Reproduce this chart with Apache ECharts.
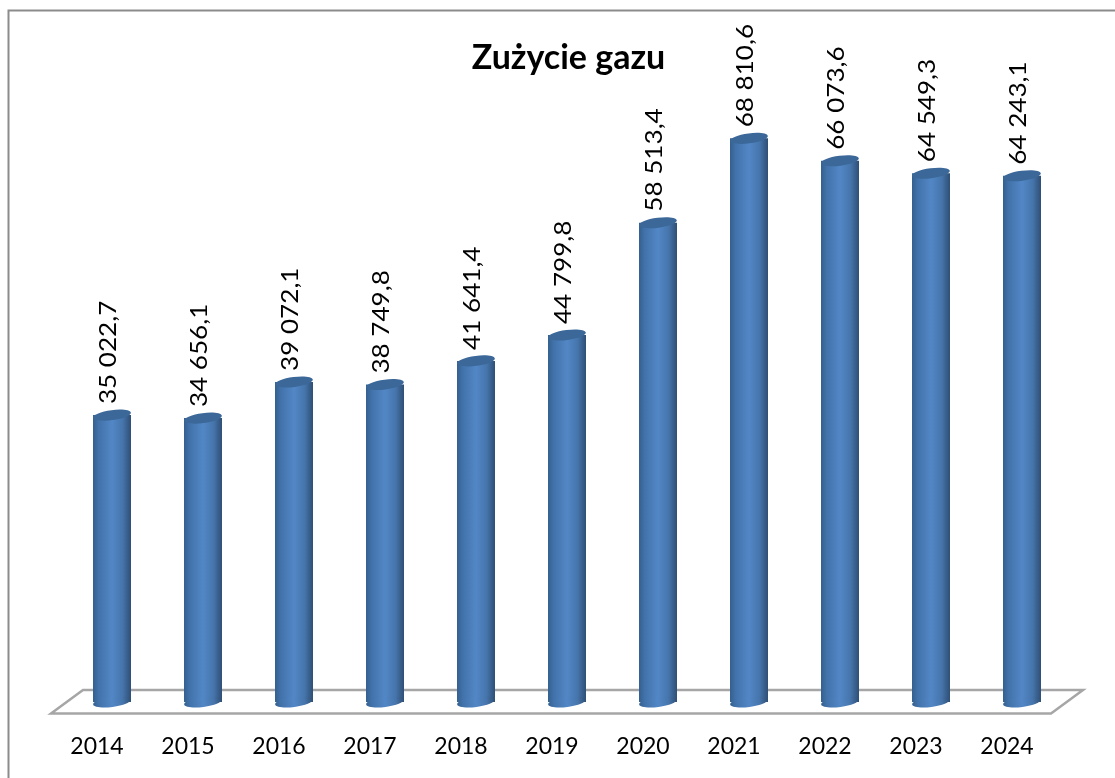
<!DOCTYPE html>
<html>
<head>
<meta charset="utf-8">
<style>html,body{margin:0;padding:0;background:#fff}#main{width:1115px;height:778px}</style>
<script src="https://cdn.jsdelivr.net/npm/echarts@6/dist/echarts.min.js"></script>
</head>
<body>
<div id="main"></div>
<script>
var years = ['2014', '2015', '2016', '2017', '2018', '2019', '2020', '2021', '2022', '2023', '2024'];
var gasUse = [35022.7, 34656.1, 39072.1, 38749.8, 41641.4, 44799.8, 58513.4, 68810.6, 66073.6, 64549.3, 64243.1];
var chartTitle = 'Zużycie gazu';

var myChart = echarts.init(document.getElementById('main'));

// 35 022,7 -> spacja tysiecy i przecinek
function plNumber(v) {
    var p = v.toFixed(1).split('.');
    return p[0].replace(/\B(?=(\d{3})+$)/g, ' ') + ',' + p[1];
}

var bodyFill = new echarts.graphic.LinearGradient(0, 0, 1, 0, [
    { offset: 0, color: '#34608f' },
    { offset: 0.15, color: '#4272aa' },
    { offset: 0.5, color: '#5287c6' },
    { offset: 0.78, color: '#4675ac' },
    { offset: 1, color: '#2f4f75' }
]);

// walec: korpus + dwie elipsy lekko pochylone jak w wykresie 3D
function renderCylinder(params, api) {
    var top = api.coord([api.value(0), api.value(1)]);
    var base = api.coord([api.value(0), 0]);
    var hw = 19;
    var tilt = 0.13;
    return {
        type: 'group',
        children: [{
            type: 'rect',
            shape: { x: top[0] - hw, y: top[1], width: hw * 2, height: base[1] - top[1] },
            style: { fill: bodyFill }
        }, {
            type: 'ellipse',
            x: base[0], y: base[1], rotation: tilt,
            shape: { cx: 0, cy: 0, rx: hw, ry: 5 },
            style: { fill: bodyFill }
        }, {
            type: 'ellipse',
            x: top[0], y: top[1], rotation: tilt,
            shape: { cx: 0, cy: 0, rx: hw, ry: 5 },
            style: { fill: '#3b6898' }
        }, {
            type: 'text',
            x: top[0] - 4, y: top[1] - 11, rotation: Math.PI / 2, scaleX: 1.11,
            style: {
                text: plNumber(api.value(1)),
                font: '23.5px Lato, "Open Sans", sans-serif',
                fill: '#000',
                align: 'left',
                verticalAlign: 'middle'
            }
        }]
    };
}

var option = {
    animation: false,
    title: {
        text: chartTitle,
        left: 563.5,
        top: 36,
        textAlign: 'center',
        textStyle: { fontFamily: 'Lato, "Open Sans", sans-serif', fontSize: 34, fontWeight: 'bold', color: '#000' }
    },
    grid: { left: 66.5, right: 47.5, top: 0, bottom: 76 },
    xAxis: {
        type: 'category',
        data: years,
        axisLine: { show: false },
        axisTick: { show: false },
        // etykiety lat sa przesuniete w lewo wzgledem walcow
        axisLabel: { color: '#000', fontSize: 23, fontFamily: 'Lato, "Open Sans", sans-serif', margin: 33, padding: [0, 30, 0, 0] }
    },
    yAxis: { type: 'value', min: 0, max: 85700, show: false },
    graphic: [{
        type: 'rect',
        silent: true,
        shape: { x: 8.5, y: 10.5, width: 1120, height: 780 },
        style: { fill: 'none', stroke: '#8c8c8c', lineWidth: 2 }
    }, {
        type: 'polygon',
        silent: true,
        shape: { points: [[51, 713.5], [83, 690], [1083, 690], [1051, 713.5]] },
        style: { fill: 'none', stroke: '#a6a6a6', lineWidth: 2.5 }
    }],
    series: [{
        type: 'custom',
        renderItem: renderCylinder,
        encode: { x: 0, y: 1 },
        data: gasUse.map(function (v, i) { return [i, v]; })
    }]
};
myChart.setOption(option);
</script>
</body>
</html>
